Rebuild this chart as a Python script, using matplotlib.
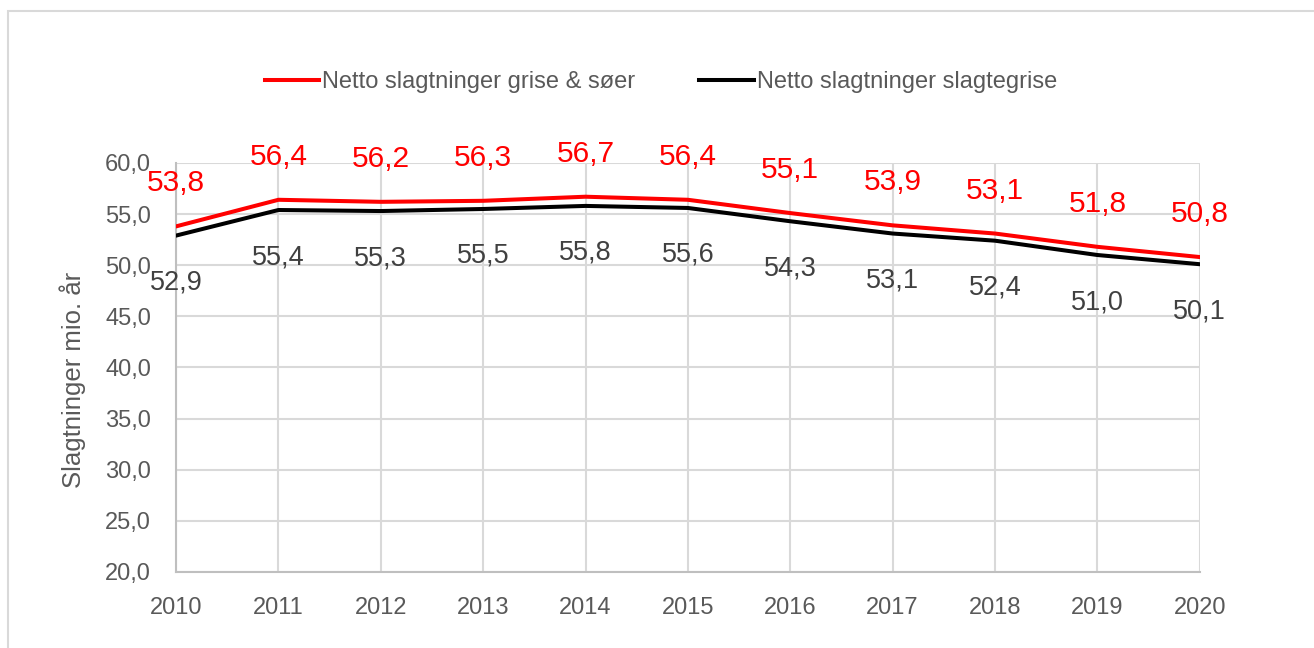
import matplotlib.pyplot as plt
import matplotlib.patches as patches
from matplotlib.ticker import FuncFormatter

plt.rcParams['font.family'] = ['Liberation Sans', 'DejaVu Sans']

# Data
years = [2010, 2011, 2012, 2013, 2014, 2015, 2016, 2017, 2018, 2019, 2020]
grise_soer = [53.8, 56.4, 56.2, 56.3, 56.7, 56.4, 55.1, 53.9, 53.1, 51.8, 50.8]
slagtegrise = [52.9, 55.4, 55.3, 55.5, 55.8, 55.6, 54.3, 53.1, 52.4, 51.0, 50.1]
label_red = "Netto slagtninger grise & søer"
label_black = "Netto slagtninger slagtegrise"

fig = plt.figure(figsize=(13.14, 6.48), dpi=100)
ax = fig.add_axes([0.134, 0.1173, 0.779, 0.6312])

ax.plot(years, grise_soer, color='#ff0000', lw=2.9, label=label_red, zorder=3)
ax.plot(years, slagtegrise, color='#000000', lw=2.9, label=label_black, zorder=3)

def comma(v):
    return f"{v:.1f}".replace('.', ',')

# data labels
for x, v in zip(years, grise_soer):
    ax.annotate(comma(v), (x, v), xytext=(0, 43), textcoords='offset pixels',
                ha='center', va='center', color='#ff0000', fontsize=21.5,
                annotation_clip=False)
for x, v in zip(years, slagtegrise):
    ax.annotate(comma(v), (x, v), xytext=(0, -47), textcoords='offset pixels',
                ha='center', va='center', color='#404040', fontsize=19.5,
                annotation_clip=False)

ax.set_xlim(2010, 2020)
ax.set_ylim(20, 60)
ax.set_xticks(years)
ax.set_yticks(range(20, 61, 5))
ax.yaxis.set_major_formatter(FuncFormatter(lambda v, p: comma(v)))
ax.grid(True, color='#d9d9d9', lw=1.5)
ax.set_axisbelow(True)

for s in ['top', 'right']:
    ax.spines[s].set_visible(False)
for s in ['left', 'bottom']:
    ax.spines[s].set_color('#bfbfbf')
    ax.spines[s].set_linewidth(1.5)

ax.tick_params(axis='both', length=0, colors='#595959', labelsize=17)
ax.tick_params(axis='y', pad=18)
ax.tick_params(axis='x', pad=18)

ax.set_ylabel("Slagtninger mio. år", fontsize=18.5, color='#595959')
ax.yaxis.set_label_coords(-0.088, 0.47)

fig.legend(loc='center', bbox_to_anchor=(661 / 1314, 1 - 82 / 648), ncol=2,
           frameon=False, fontsize=17, handlelength=2.3, handletextpad=0.15,
           columnspacing=2.7, labelcolor='#595959')

# outer border
fig.patches.append(patches.Rectangle((8 / 1314, -0.01), 1.0, 1 - 11 / 648 + 0.01,
                                     transform=fig.transFigure, fill=False,
                                     edgecolor='#d9d9d9', lw=1.5))

fig.savefig('out.png', dpi=100)
